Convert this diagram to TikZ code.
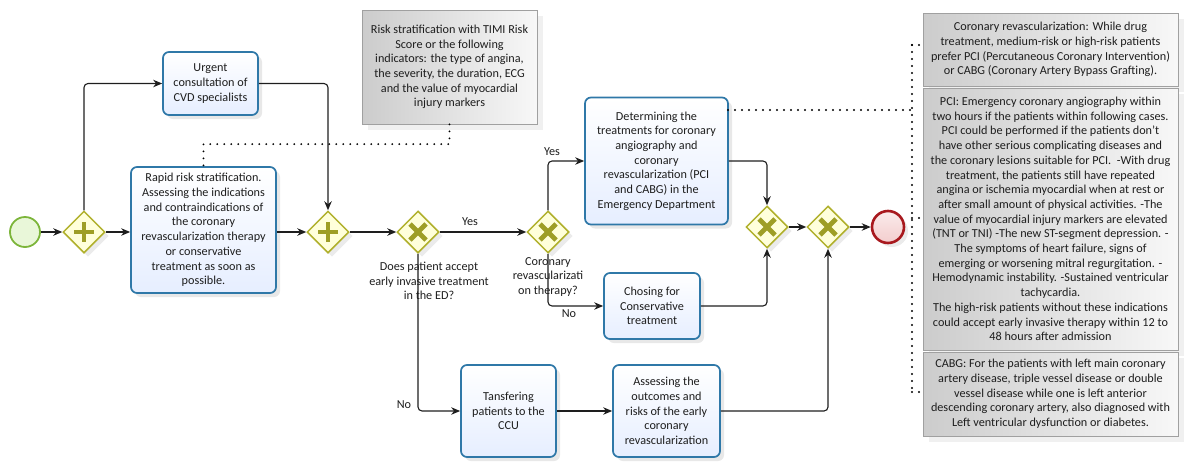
\documentclass[tikz,border=0pt]{standalone}
\usepackage{fontspec}
\setmainfont{Carlito}
\usetikzlibrary{arrows.meta,shapes.geometric,shadows,calc}

\definecolor{taskline}{HTML}{2F78A8}
\definecolor{taskfill}{HTML}{E6EEFF}
\definecolor{gwline}{HTML}{B0B02C}
\definecolor{gwfill}{HTML}{FFFFDA}
\definecolor{gwmark}{HTML}{9E9E26}
\definecolor{startline}{HTML}{7CB53A}
\definecolor{startfill}{HTML}{E9F7D9}
\definecolor{endline}{HTML}{A8191E}
\definecolor{endfill}{HTML}{F3CDCD}
\definecolor{noteline}{HTML}{A0A0A0}
\definecolor{ink}{HTML}{1E1E1E}

\newcommand\bpfont{\fontsize{12.2}{14.7}\selectfont}

\tikzset{
  taskbox/.style={draw=taskline, line width=1.7pt, rounded corners=6pt,
    top color=white, bottom color=taskfill, align=center, inner sep=2pt,
    font=\bpfont, text=ink,
    drop shadow={shadow xshift=4pt, shadow yshift=-4pt, opacity=.18}},
  gw/.style={diamond, draw=gwline, fill=gwfill, line width=1.5pt,
    minimum width=42pt, minimum height=42pt, inner sep=0pt,
    drop shadow={shadow xshift=4pt, shadow yshift=-4pt, opacity=.16}},
  gwsign/.style={gwmark, line width=4.8pt},
  notebox/.style={draw=noteline, line width=0.8pt, left color=black!20,
    right color=black!3, align=center, inner sep=2pt, font=\bpfont, text=ink,
    drop shadow={shadow xshift=6pt, shadow yshift=-6pt, opacity=.12}},
  flow/.style={draw=ink, line width=1.1pt, rounded corners=4pt,
    -{Stealth[length=9pt,width=7.5pt]}},
  assoc/.style={draw=black, line width=2.1pt, line cap=round,
    dash pattern=on 0pt off 7pt},
  lbl/.style={font=\bpfont, text=ink, align=center, inner sep=0pt},
}

\newcommand\plusmark[1]{\draw[gwsign] (#1.center) +(-10,0) -- +(10,0)
  (#1.center) +(0,-10) -- +(0,10);}
\newcommand\xmark[1]{\draw[gwsign] (#1.center) +(-8,-8) -- +(8,8)
  (#1.center) +(-8,8) -- +(8,-8);}

\begin{document}
\begin{tikzpicture}[x=1pt,y=-1pt]
\useasboundingbox (0,0) rectangle (1184,461);

% events
\node[circle, draw=startline, fill=startfill, line width=1.8pt,
  minimum size=30pt, inner sep=0pt] (start) at (25,232) {};
\node[circle, draw=endline, top color=endfill!40!white, bottom color=endfill,
  line width=2.6pt, minimum size=32pt, inner sep=0pt,
  drop shadow={shadow xshift=4pt, shadow yshift=-4pt, opacity=.16}] (end) at (888,227) {};

% gateways
\node[gw] (g1) at (84,232) {};
\node[gw] (g2) at (328,232) {};
\node[gw] (g3) at (418,232) {};
\node[gw] (g4) at (548,232) {};
\node[gw] (g5) at (767,227) {};
\node[gw] (g6) at (828,227) {};
\plusmark{g1}
\plusmark{g2}
\xmark{g3}
\xmark{g4}
\xmark{g5}
\xmark{g6}

% tasks
\node[taskbox, minimum width=95pt, minimum height=63pt] (urgent) at (210.5,83.5)
  {Urgent\\consultation of\\CVD specialists};
\node[taskbox, minimum width=145pt, minimum height=126pt] (rapid) at (203.5,230)
  {Rapid risk stratification.\\Assessing the indications\\and contraindications of\\the coronary\\revascularization therapy\\or conservative\\treatment as soon as\\possible.};
\node[taskbox, minimum width=143pt, minimum height=127pt] (det) at (656.5,161)
  {Determining the\\treatments for coronary\\angiography and\\coronary\\revascularization (PCI\\and CABG) in the\\Emergency Department};
\node[taskbox, minimum width=96pt, minimum height=66pt] (chos) at (652,306)
  {Chosing for\\Conservative\\treatment};
\node[taskbox, minimum width=95pt, minimum height=92pt] (tans) at (508.5,411)
  {Tansfering\\patients to the\\CCU};
\node[taskbox, minimum width=107pt, minimum height=92pt] (asse) at (666.5,411)
  {Assessing the\\outcomes and\\risks of the early\\coronary\\revascularization};

% annotations
\node[notebox, minimum width=175pt, minimum height=114pt] (timi) at (449.5,67)
  {Risk stratification with TIMI Risk\\Score or the following\\indicators: the type of angina,\\the severity, the duration, ECG\\and the value of myocardial\\injury markers};
\node[notebox, minimum width=255pt, minimum height=73pt] (n1) at (1050.5,49.5)
  {Coronary revascularization: While drug\\treatment, medium-risk or high-risk patients\\prefer PCI (Percutaneous Coronary Intervention)\\or CABG (Coronary Artery Bypass Grafting).};
\node[notebox, minimum width=255pt, minimum height=262pt] (n2) at (1050.5,219)
  {PCI: Emergency coronary angiography within\\two hours if the patients within following cases.\\PCI could be performed if the patients don't\\have other serious complicating diseases and\\the coronary lesions suitable for PCI.\ \ -With drug\\treatment, the patients still have repeated\\angina or ischemia myocardial when at rest or\\after small amount of physical activities. -The\\value of myocardial injury markers are elevated\\(TNT or TNI) -The new ST-segment depression. -\\The symptoms of heart failure, signs of\\emerging or worsening mitral regurgitation. -\\Hemodynamic instability. -Sustained ventricular\\tachycardia.\\The high-risk patients without these indications\\could accept early invasive therapy within 12 to\\48 hours after admission};
\node[notebox, minimum width=255pt, minimum height=84pt] (n3) at (1050.5,394)
  {CABG: For the patients with left main coronary\\artery disease, triple vessel disease or double\\vessel disease while one is left anterior\\descending coronary artery, also diagnosed with\\Left ventricular dysfunction or diabetes.};

% sequence flows
\draw[flow] (start) -- (g1);
\draw[flow] (g1) -- (rapid.west |- g1);
\draw[flow] (g1.north) |- (urgent.west);
\draw[flow] (urgent.east) -| (g2.north);
\draw[flow] (rapid.east |- g2) -- (g2.west);
\draw[flow] (g2) -- (g3);
\draw[flow] (g3) -- (g4);
\draw[flow] (g3.south) |- (tans.west);
\draw[flow] (g4.north) |- (det.west);
\draw[flow] (g4.south) |- (chos.west);
\draw[flow] (det.east) -| (g5.north);
\draw[flow] (chos.east) -| (g5.south);
\draw[flow] (tans) -- (asse);
\draw[flow] (asse.east) -| (g6.south);
\draw[flow] (g5) -- (g6);
\draw[flow] (g6) -- (end);

% flow labels
\node[lbl] (yes1) at (470,222) {Yes};
\node[lbl] (no1) at (404,405) {No};
\node[lbl] (yes2) at (552,152) {Yes};
\node[lbl] (no2) at (569,314) {No};
\node[lbl] (q1) at (429,281) {Does patient accept\\early invasive treatment\\in the ED?};
\node[lbl] (q2) at (548,277) {Coronary\\revascularizati\\on therapy?};

% associations
\coordinate (bend) at ($(rapid.north)+(0,-22)$);
\draw[assoc] (timi.south) |- (bend) -- (rapid.north);
\coordinate (detout) at (728,110);
\coordinate (btop) at (912,45);
\coordinate (bmid) at (912,110);
\coordinate (bbot) at (912,392);
\draw[assoc] (detout) -- (bmid);
\draw[assoc] (btop) -- (bbot);
\draw[assoc] (btop) -- (btop -| n1.west);
\draw[assoc] (912,218) -- (n2.west |- 0,218);
\draw[assoc] (bbot) -- (bbot -| n3.west);
\end{tikzpicture}
\end{document}
